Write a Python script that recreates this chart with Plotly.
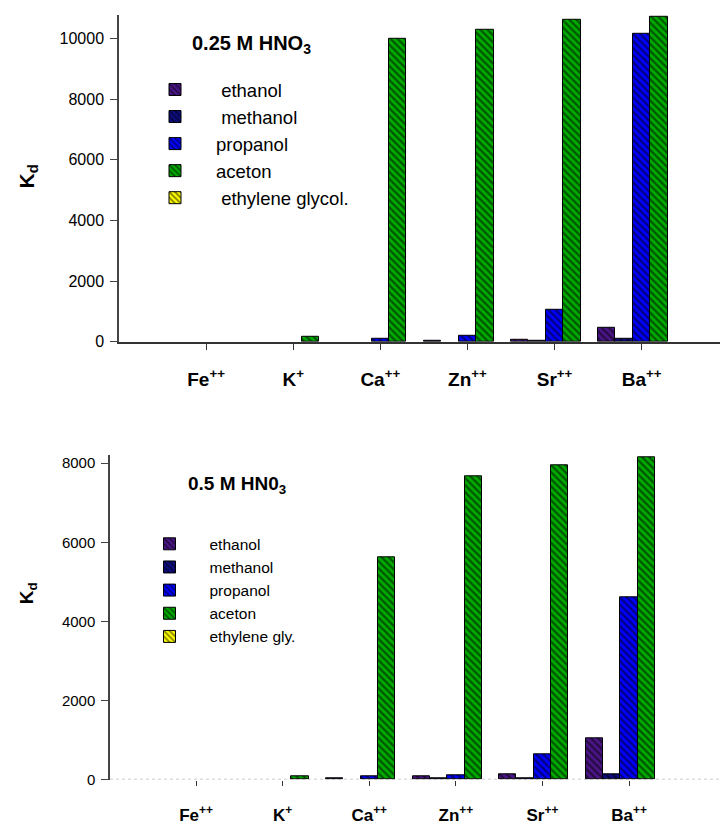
import plotly.graph_objects as go

# ---------------- data ----------------
ions = ["Fe<sup>++</sup>", "K<sup>+</sup>", "Ca<sup>++</sup>", "Zn<sup>++</sup>", "Sr<sup>++</sup>", "Ba<sup>++</sup>"]

names_top = ["\u00a0ethanol", "\u00a0methanol", "propanol", "aceton", "\u00a0ethylene glycol."]
names_bottom = ["ethanol", "methanol", "propanol", "aceton", "ethylene gly."]
colors = ["#4b1587", "#0c0c82", "#0000ff", "#00aa00", "#ffff00"]

# 0.25 M HNO3 (None = no bar visible)
kd025_ethanol = [None, None, None, 35, 60, 470]
kd025_methanol = [None, None, None, None, 30, 80]
kd025_propanol = [None, None, 110, 210, 1050, 10140]
kd025_aceton = [None, 165, 10000, 10300, 10600, 10720]
kd025_ethylene = [None, None, None, None, None, None]

# 0.5 M HNO3
kd05_ethanol = [None, None, 25, 90, 120, 1050]
kd05_methanol = [None, None, None, 20, 40, 125]
kd05_propanol = [None, None, 70, 95, 650, 4620]
kd05_aceton = [None, 85, 5610, 7680, 7950, 8160]
kd05_ethylene = [None, None, None, None, None, None]

top_ticks = [0, 2000, 4000, 6000, 8000, 10000]
bottom_ticks = [0, 2000, 4000, 6000, 8000]

top_series = [kd025_ethanol, kd025_methanol, kd025_propanol, kd025_aceton, kd025_ethylene]
bottom_series = [kd05_ethanol, kd05_methanol, kd05_propanol, kd05_aceton, kd05_ethylene]

FONT = "Arial, Liberation Sans, sans-serif"
W, H = 720, 825

fig = go.Figure()

for i, (name, vals) in enumerate(zip(names_top, top_series)):
    fig.add_trace(go.Bar(
        x=ions, y=vals, name=name, xaxis="x", yaxis="y", legend="legend",
        marker=dict(color=colors[i], line=dict(color="black", width=1),
                    pattern=dict(shape="\\", fgcolor="black", bgcolor=colors[i],
                                 size=5, solidity=0.45)),
    ))

for i, (name, vals) in enumerate(zip(names_bottom, bottom_series)):
    fig.add_trace(go.Bar(
        x=ions, y=vals, name=name, xaxis="x2", yaxis="y2", legend="legend2",
        marker=dict(color=colors[i], line=dict(color="black", width=1),
                    pattern=dict(shape="\\", fgcolor="black", bgcolor=colors[i],
                                 size=5, solidity=0.45)),
    ))

fig.update_layout(
    width=W, height=H,
    margin=dict(l=0, r=0, t=0, b=0),
    paper_bgcolor="white", plot_bgcolor="white",
    font=dict(family=FONT, color="black"),
    barmode="group", bargap=0, bargroupgap=0,
    xaxis=dict(domain=[119 / W, 1.0], anchor="y", type="category",
               range=[-1.0, 5.9], showgrid=False, zeroline=False,
               showline=True, linecolor="#333333", linewidth=2,
               ticks="outside", ticklen=6, tickcolor="#333333", tickwidth=1,
               tickfont=dict(size=19, family=FONT, weight="bold"),
               ticklabelstandoff=14),
    yaxis=dict(domain=[1 - 345.7 / H, 1 - 14 / H], anchor="x",
               range=[0, 10780], showgrid=False, zeroline=False,
               showline=True, linecolor="#444444", linewidth=1.5,
               ticks="outside", ticklen=7, tickcolor="#444444",
               tickvals=top_ticks, ticktext=[str(v) for v in top_ticks],
               ticklabelstandoff=3,
               tickfont=dict(size=16, family=FONT)),
    xaxis2=dict(domain=[110 / W, 1.0], anchor="y2", type="category",
                range=[-0.993, 6.05], showgrid=False, zeroline=False,
                showline=False,
                ticks="outside", ticklen=5, tickcolor="#333333", tickwidth=1,
                tickfont=dict(size=17, family=FONT, weight="bold"),
                ticklabelstandoff=15),
    yaxis2=dict(domain=[1 - 790 / H, 1 - 461 / H], anchor="x2",
                range=[0, 8200], showgrid=False, zeroline=False,
                showline=True, linecolor="#444444", linewidth=1.5,
                ticks="outside", ticklen=7, tickcolor="#444444",
                tickvals=bottom_ticks, ticktext=[str(v) for v in bottom_ticks],
                ticklabelstandoff=3,
                tickfont=dict(size=15, family=FONT)),
    legend=dict(x=134 / W, y=1 - 71 / H, xanchor="left", yanchor="top",
                bgcolor="rgba(0,0,0,0)", borderwidth=0, itemwidth=72,
                traceorder="normal",
                font=dict(size=18.5, family=FONT)),
    legend2=dict(x=129.5 / W, y=1 - 534 / H, xanchor="left", yanchor="top",
                 bgcolor="rgba(0,0,0,0)", borderwidth=0, itemwidth=70,
                 traceorder="normal",
                 font=dict(size=15.5, family=FONT)),
    showlegend=True,
)

# dotted baseline of the lower panel
fig.add_shape(type="line", xref="x2 domain", yref="y2", x0=0, x1=1, y0=0, y1=0,
              line=dict(color="#bbbbbb", width=1.5, dash="dot"), layer="below")

# panel titles and axis titles
fig.add_annotation(text="<b>0.25 M HNO<sub>3</sub></b>", xref="paper", yref="paper",
                   x=190 / W, y=1 - 44 / H, xanchor="left", yanchor="middle",
                   showarrow=False, font=dict(size=20, family=FONT))
fig.add_annotation(text="<b>0.5 M HN0<sub>3</sub></b>", xref="paper", yref="paper",
                   x=186 / W, y=1 - 491 / H, xanchor="left", yanchor="middle",
                   showarrow=False, font=dict(size=19, family=FONT))
fig.add_annotation(text="<b>K<sub>d</sub></b>", xref="paper", yref="paper",
                   x=28 / W, y=1 - 178 / H, xanchor="center", yanchor="middle",
                   textangle=-90, showarrow=False, font=dict(size=21, family=FONT))
fig.add_annotation(text="<b>K<sub>d</sub></b>", xref="paper", yref="paper",
                   x=28 / W, y=1 - 601 / H, xanchor="center", yanchor="middle",
                   textangle=-90, showarrow=False, font=dict(size=19, family=FONT))

fig.write_html("out.html")
